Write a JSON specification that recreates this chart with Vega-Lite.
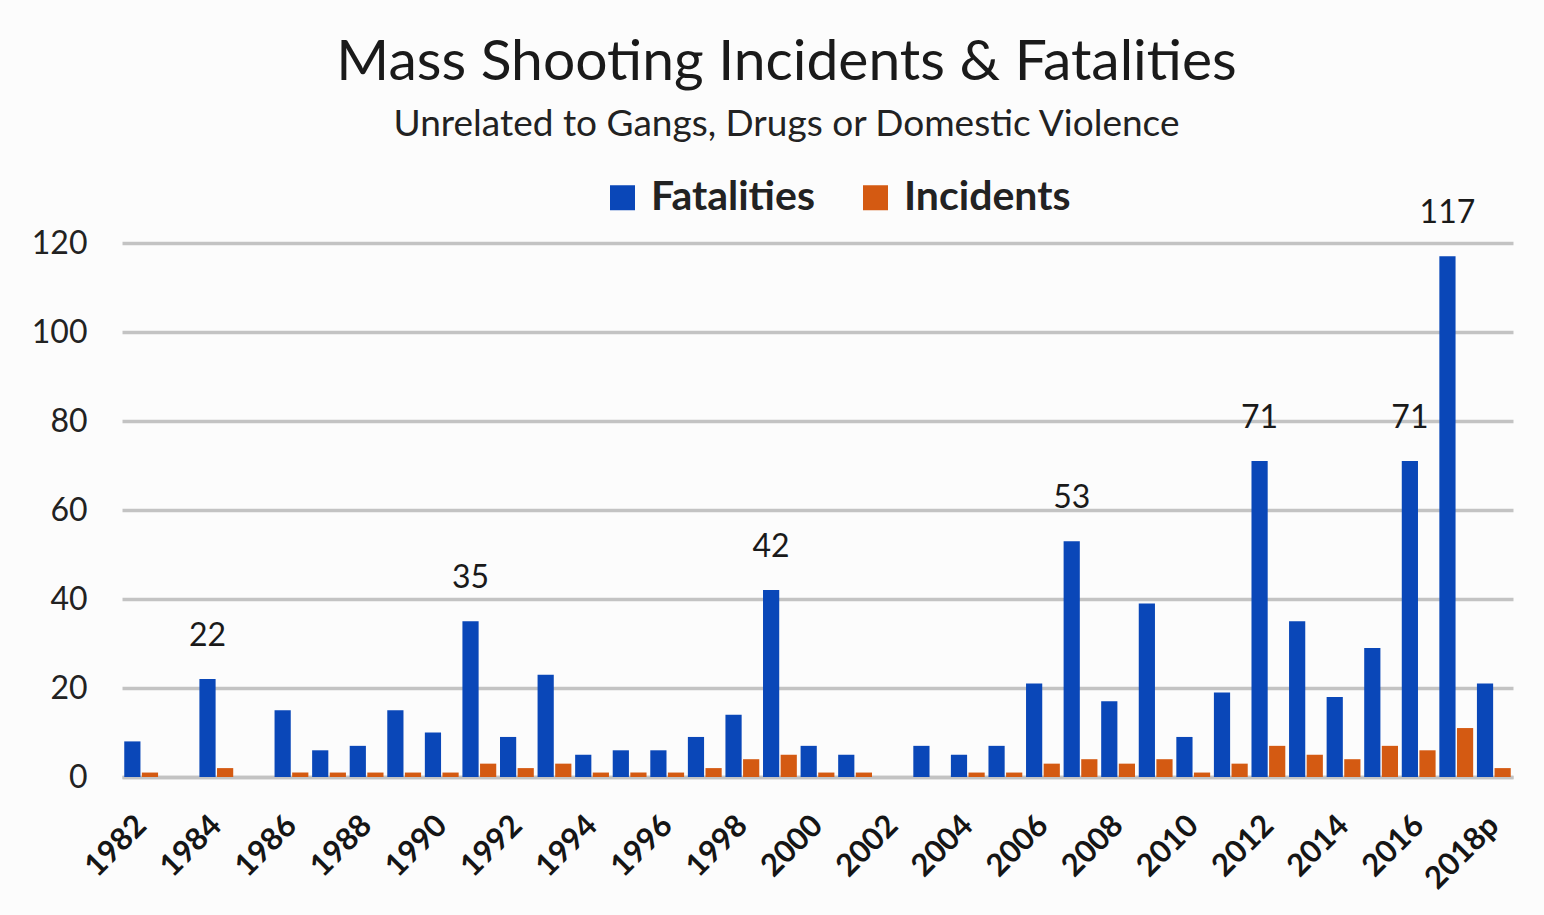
{
  "$schema": "https://vega.github.io/schema/vega-lite/v6.json",
  "width": 1391,
  "height": 534,
  "autosize": {"type": "none"},
  "padding": {"left": 122, "top": 243, "right": 31, "bottom": 138},
  "background": "#fcfcfc",
  "config": {"view": {"stroke": null}, "font": "Lato"},
  "title": {
    "text": "Mass Shooting Incidents & Fatalities",
    "subtitle": "Unrelated to Gangs, Drugs or Domestic Violence",
    "fontSize": 57,
    "fontWeight": "normal",
    "color": "#1a1a1a",
    "subtitleFontSize": 37,
    "subtitleColor": "#222222",
    "subtitlePadding": 15,
    "anchor": "middle",
    "dx": -31,
    "offset": 33
  },
  "data": {
    "values": [
      {"year": "1982", "Fatalities": 8, "Incidents": 1},
      {"year": "1983", "Fatalities": 0, "Incidents": 0},
      {"year": "1984", "Fatalities": 22, "Incidents": 2},
      {"year": "1985", "Fatalities": 0, "Incidents": 0},
      {"year": "1986", "Fatalities": 15, "Incidents": 1},
      {"year": "1987", "Fatalities": 6, "Incidents": 1},
      {"year": "1988", "Fatalities": 7, "Incidents": 1},
      {"year": "1989", "Fatalities": 15, "Incidents": 1},
      {"year": "1990", "Fatalities": 10, "Incidents": 1},
      {"year": "1991", "Fatalities": 35, "Incidents": 3},
      {"year": "1992", "Fatalities": 9, "Incidents": 2},
      {"year": "1993", "Fatalities": 23, "Incidents": 3},
      {"year": "1994", "Fatalities": 5, "Incidents": 1},
      {"year": "1995", "Fatalities": 6, "Incidents": 1},
      {"year": "1996", "Fatalities": 6, "Incidents": 1},
      {"year": "1997", "Fatalities": 9, "Incidents": 2},
      {"year": "1998", "Fatalities": 14, "Incidents": 4},
      {"year": "1999", "Fatalities": 42, "Incidents": 5},
      {"year": "2000", "Fatalities": 7, "Incidents": 1},
      {"year": "2001", "Fatalities": 5, "Incidents": 1},
      {"year": "2002", "Fatalities": 0, "Incidents": 0},
      {"year": "2003", "Fatalities": 7, "Incidents": 0},
      {"year": "2004", "Fatalities": 5, "Incidents": 1},
      {"year": "2005", "Fatalities": 7, "Incidents": 1},
      {"year": "2006", "Fatalities": 21, "Incidents": 3},
      {"year": "2007", "Fatalities": 53, "Incidents": 4},
      {"year": "2008", "Fatalities": 17, "Incidents": 3},
      {"year": "2009", "Fatalities": 39, "Incidents": 4},
      {"year": "2010", "Fatalities": 9, "Incidents": 1},
      {"year": "2011", "Fatalities": 19, "Incidents": 3},
      {"year": "2012", "Fatalities": 71, "Incidents": 7},
      {"year": "2013", "Fatalities": 35, "Incidents": 5},
      {"year": "2014", "Fatalities": 18, "Incidents": 4},
      {"year": "2015", "Fatalities": 29, "Incidents": 7},
      {"year": "2016", "Fatalities": 71, "Incidents": 6},
      {"year": "2017", "Fatalities": 117, "Incidents": 11},
      {"year": "2018p", "Fatalities": 21, "Incidents": 2}
    ]
  },
  "transform": [{"fold": ["Fatalities", "Incidents"], "as": ["series", "value"]}],
  "encoding": {
    "x": {
      "field": "year",
      "type": "nominal",
      "sort": null,
      "scale": {"paddingInner": 0.1, "paddingOuter": 0.06},
      "axis": {
        "title": null,
        "values": ["1982", "1984", "1986", "1988", "1990", "1992", "1994", "1996", "1998", "2000", "2002", "2004", "2006", "2008", "2010", "2012", "2014", "2016", "2018p"],
        "labelAngle": -45,
        "labelFontSize": 31,
        "labelFontWeight": "bold",
        "labelColor": "#151515",
        "labelPadding": 33,
        "labelOffset": -10,
        "ticks": false,
        "domain": true,
        "domainColor": "#c3c3c3",
        "domainWidth": 3.5
      }
    },
    "xOffset": {"field": "series", "type": "nominal", "scale": {"paddingInner": 0.08}},
    "y": {
      "field": "value",
      "type": "quantitative",
      "scale": {"domain": [0, 120], "nice": false},
      "axis": {
        "title": null,
        "values": [0, 20, 40, 60, 80, 100, 120],
        "grid": true,
        "gridColor": "#c3c3c3",
        "gridWidth": 3.5,
        "domain": false,
        "ticks": false,
        "labelFontSize": 32,
        "labelColor": "#222222",
        "labelPadding": 35
      }
    }
  },
  "layer": [
    {
      "mark": {"type": "bar"},
      "encoding": {
        "color": {
          "field": "series",
          "type": "nominal",
          "scale": {"domain": ["Fatalities", "Incidents"], "range": ["#0a47b8", "#d45a12"]},
          "legend": {
            "title": null,
            "orient": "none",
            "direction": "horizontal",
            "legendX": 480,
            "legendY": -66,
            "symbolType": "square",
            "symbolSize": 625,
            "symbolStrokeWidth": 0,
            "symbolOpacity": 1,
            "labelFontSize": 41,
            "labelFontWeight": "bold",
            "labelColor": "#222222",
            "labelOffset": 8,
            "labelLimit": 400,
            "columnPadding": 40
          }
        }
      }
    },
    {
      "transform": [
        {"filter": {"field": "year", "oneOf": ["1984", "1991", "1999", "2007", "2012", "2016", "2017"]}},
        {"filter": "datum.series == 'Fatalities'"}
      ],
      "mark": {"type": "text", "dy": -43, "fontSize": 32, "color": "#1a1a1a"},
      "encoding": {"text": {"field": "value", "type": "quantitative"}}
    }
  ]
}
